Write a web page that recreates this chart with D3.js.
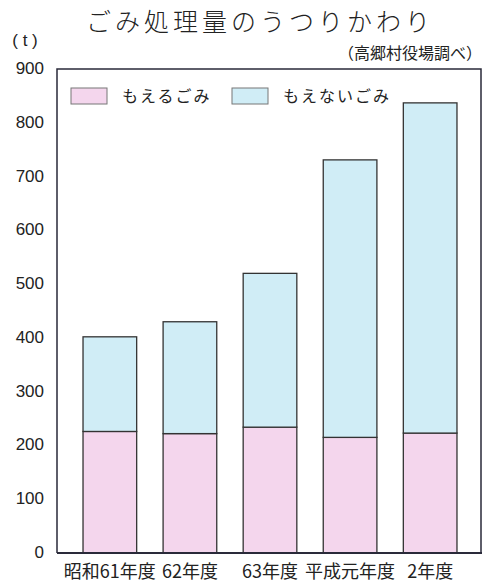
<!DOCTYPE html>
<html>
<head>
<meta charset="utf-8">
<script src="https://cdn.jsdelivr.net/npm/d3@7/dist/d3.min.js"></script>
<style>
	body { margin: 0; background: #fff; }
	text { font-family: "Noto Sans CJK JP", "Liberation Sans", sans-serif; fill: #222; }
	.num { font-family: "Liberation Sans", "DejaVu Sans", sans-serif; }
</style>
</head>
<body>
<div id="chart"></div>
<script>
var years = ["昭和61年度", "62年度", "63年度", "平成元年度", "2年度"];
var moeru = [226, 222, 234, 215, 223];
var moenai = [176, 208, 286, 516, 614];
var yTicks = [0, 100, 200, 300, 400, 500, 600, 700, 800, 900];
var seriesNames = ["もえるごみ", "もえないごみ"];
var seriesColors = ["#f4d6ed", "#d0edf6"];

var width = 482, height = 584;
var frame = { left: 57, top: 69, right: 481, bottom: 553 };

var svg = d3.select("#chart")
	.append("svg")
	.attr("width", width)
	.attr("height", height);

var x = d3.scaleBand()
	.domain(years)
	.range([frame.left + 2, frame.right])
	.paddingInner(0.33)
	.paddingOuter(0.3);

var y = d3.scaleLinear()
	.domain([0, 900])
	.range([frame.bottom, frame.top]);

// stacked rows
var rows = years.map(function(d, i) {
	return { year: d, moeru: moeru[i], moenai: moenai[i] };
});
var stacked = d3.stack().keys(["moeru", "moenai"])(rows);

// title
svg.append("text")
	.attr("x", 260)
	.attr("y", 31)
	.attr("text-anchor", "middle")
	.style("font-size", "25px")
	.style("font-weight", "300")
	.style("letter-spacing", "4px")
	.text("ごみ処理量のうつりかわり");

svg.append("text")
	.attr("x", 482)
	.attr("y", 59)
	.attr("text-anchor", "end")
	.style("font-size", "16px")
	.text("（高郷村役場調べ）");

svg.append("text")
	.attr("x", 25)
	.attr("y", 46)
	.attr("text-anchor", "middle")
	.attr("class", "num")
	.style("font-size", "17px")
	.text("( t )");

// bars
svg.append("g")
	.selectAll("g")
	.data(stacked)
	.join("g")
	.attr("fill", function(d, i) { return seriesColors[i]; })
	.selectAll("rect")
	.data(function(d) { return d; })
	.join("rect")
	.attr("x", function(d) { return x(d.data.year); })
	.attr("y", function(d) { return y(d[1]); })
	.attr("width", x.bandwidth())
	.attr("height", function(d) { return y(d[0]) - y(d[1]); })
	.attr("stroke", "#333")
	.attr("stroke-width", 1.3);

// frame
svg.append("path")
	.attr("d", "M" + frame.left + "," + frame.bottom + "V" + frame.top + "H" + frame.right + "V" + frame.bottom + "H" + width)
	.attr("fill", "none")
	.attr("stroke", "#2a2a3a")
	.attr("stroke-width", 1.5);
svg.append("line")
	.attr("x1", frame.left).attr("x2", width)
	.attr("y1", frame.bottom).attr("y2", frame.bottom)
	.attr("stroke", "#2a2a3a")
	.attr("stroke-width", 1.8);

// y labels
svg.append("g")
	.selectAll("text")
	.data(yTicks)
	.join("text")
	.attr("class", "num")
	.attr("x", 44)
	.attr("y", function(d) { return y(d) - 1; })
	.attr("dy", "0.35em")
	.attr("text-anchor", "end")
	.style("font-size", "17px")
	.text(function(d) { return d; });

// x labels
svg.append("g")
	.selectAll("text")
	.data(years)
	.join("text")
	.attr("x", function(d) { return x(d) + x.bandwidth() / 2; })
	.attr("y", 578)
	.attr("text-anchor", "middle")
	.style("font-size", "18px")
	.text(function(d) { return d; });

// legend
var legendX = [71, 232];
var legend = svg.append("g")
	.selectAll("g")
	.data(seriesNames)
	.join("g")
	.attr("transform", function(d, i) { return "translate(" + legendX[i] + ",88)"; });
legend.append("rect")
	.attr("width", 36)
	.attr("height", 16)
	.attr("fill", function(d, i) { return seriesColors[i]; })
	.attr("stroke", "#777")
	.attr("stroke-width", 1);
legend.append("text")
	.attr("x", 51)
	.attr("y", 14)
	.style("font-size", "16px")
	.style("letter-spacing", "2px")
	.text(function(d) { return d; });
</script>
</body>
</html>
